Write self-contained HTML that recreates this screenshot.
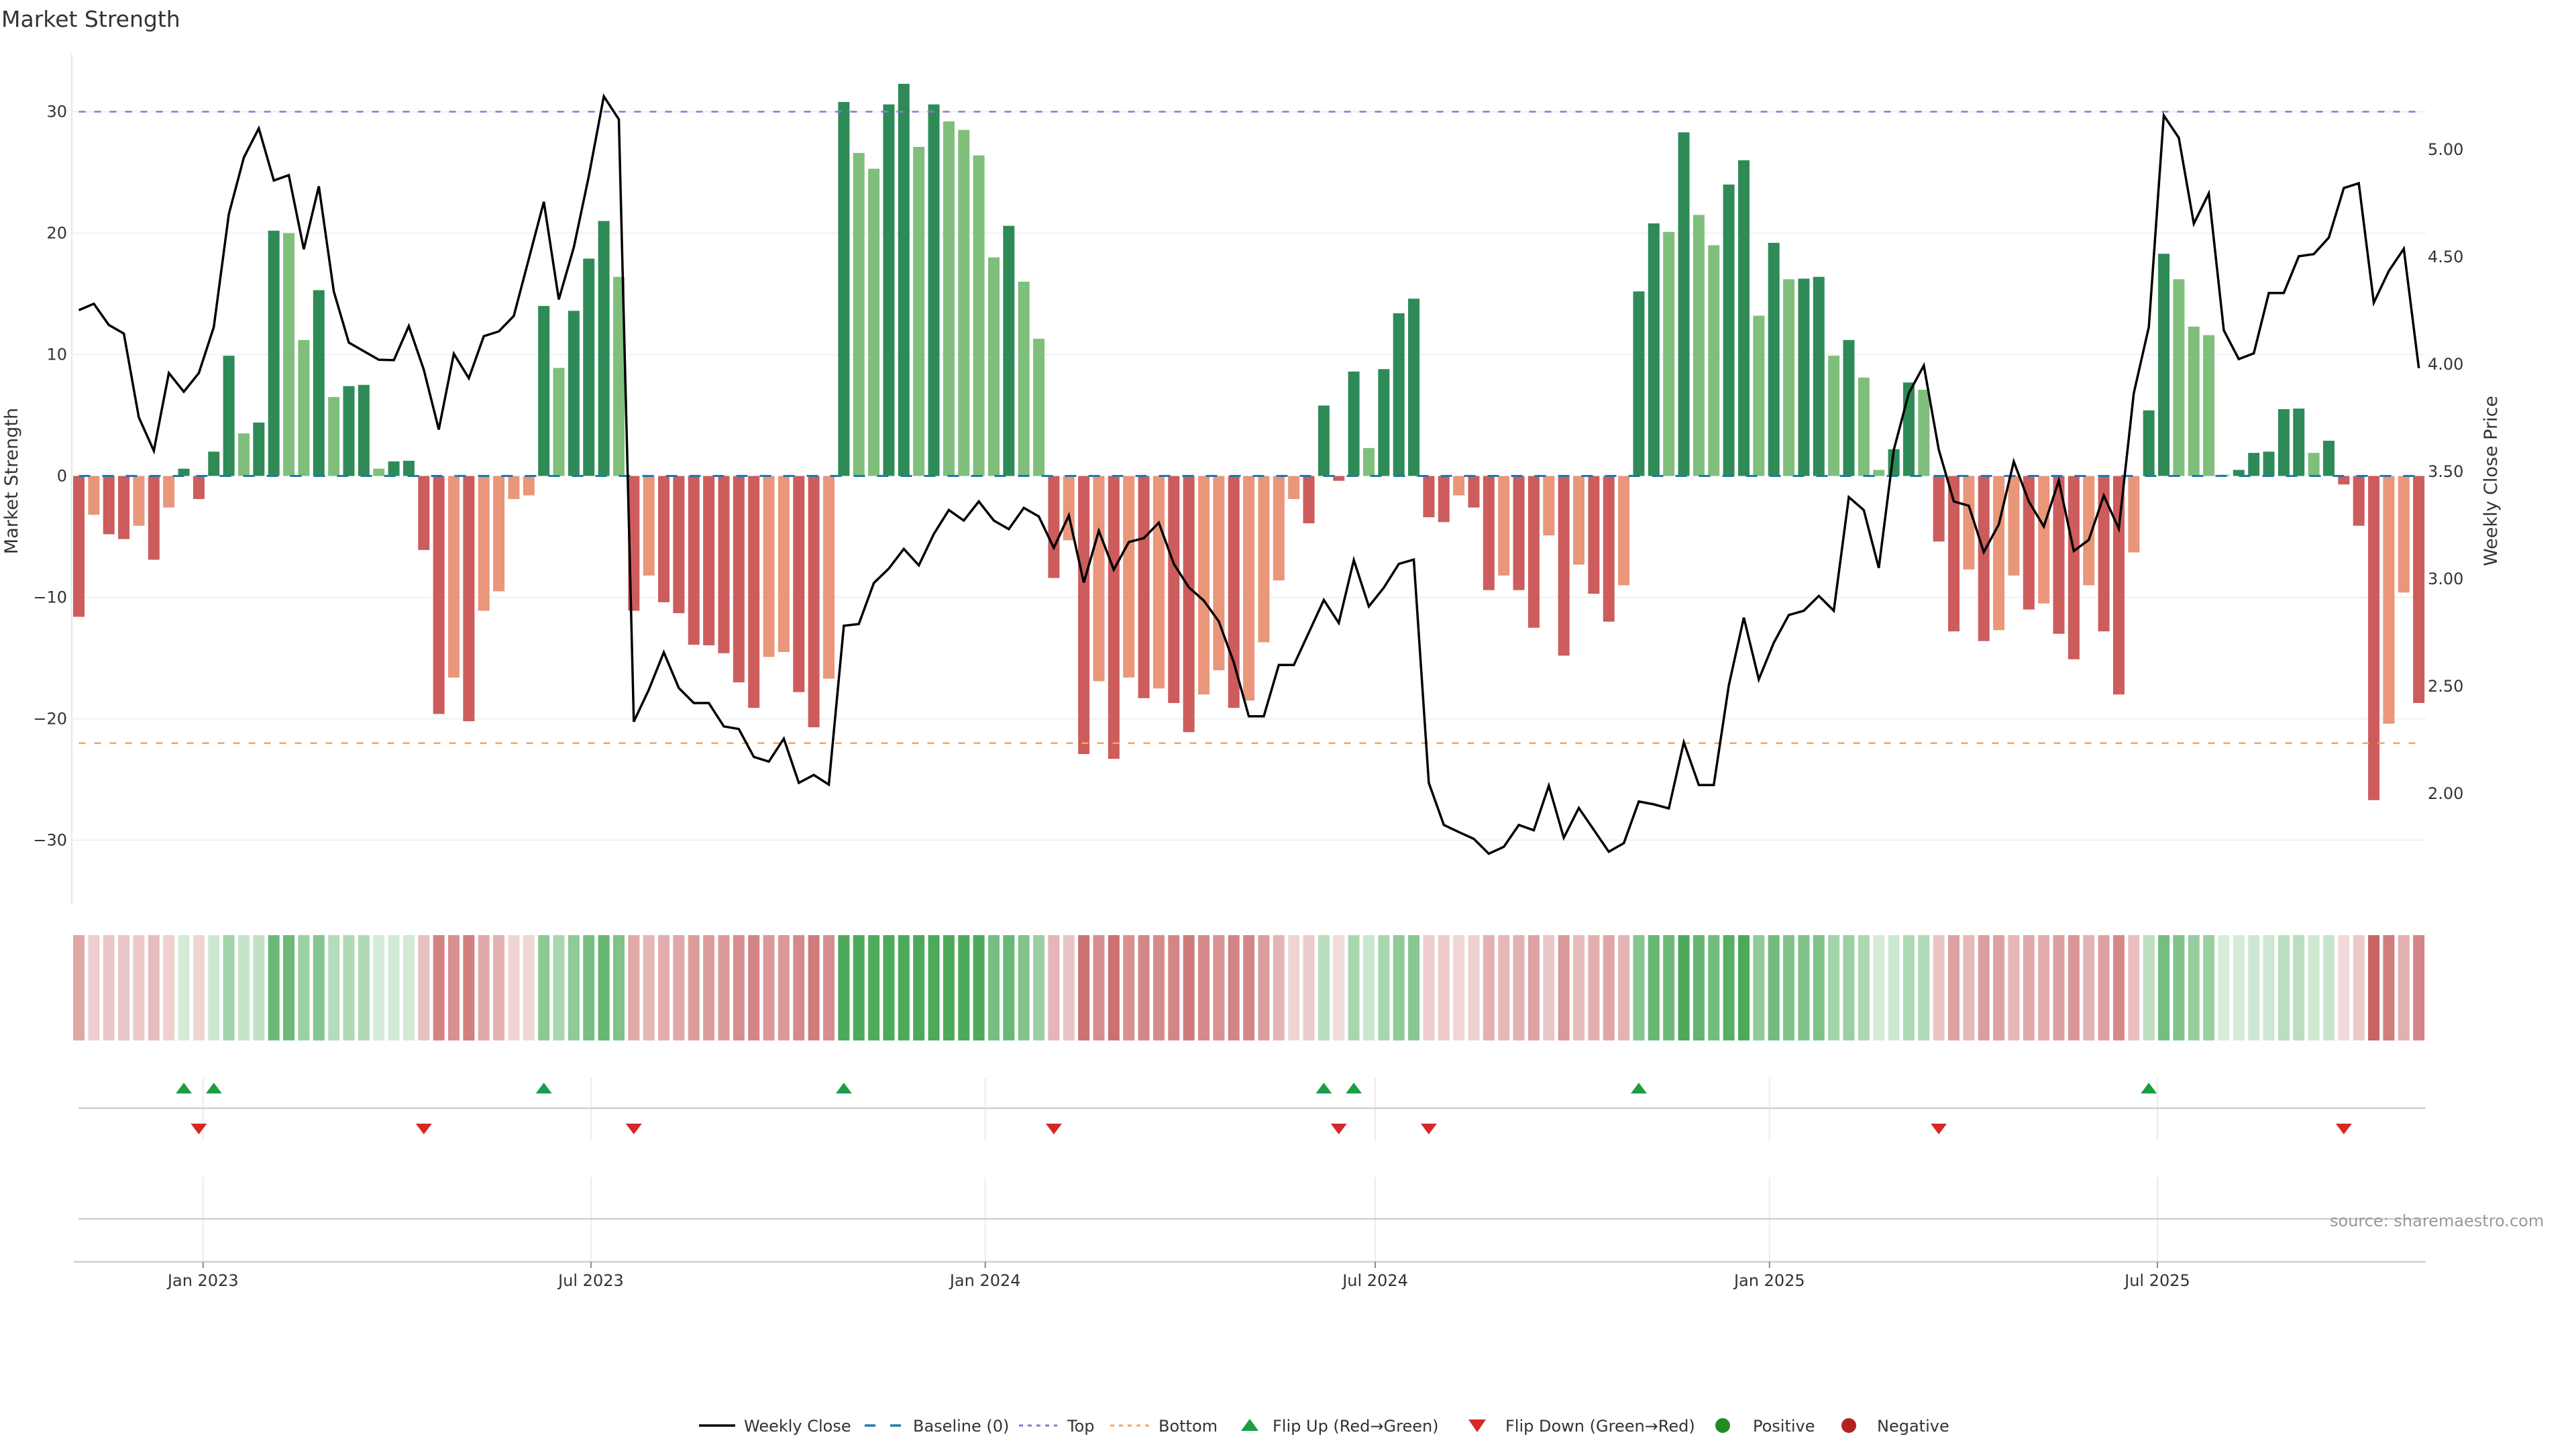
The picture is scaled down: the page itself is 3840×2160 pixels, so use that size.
<!DOCTYPE html>
<html><head><meta charset="utf-8"><title>Market Strength</title>
<style>
html,body{margin:0;padding:0;background:#fff;}
svg{display:block;font-family:"DejaVu Sans","Liberation Sans",sans-serif;}
</style></head>
<body>
<svg id="chart" width="3840" height="2160" viewBox="0 0 3840 2160" xmlns="http://www.w3.org/2000/svg">
<rect x="0" y="0" width="3840" height="2160" fill="#ffffff"/>
<text x="2" y="40" font-size="33" fill="#333">Market Strength</text>
<text transform="translate(26,717) rotate(-90)" text-anchor="middle" font-size="27" fill="#333">Market Strength</text>
<text transform="translate(3722,717) rotate(-90)" text-anchor="middle" font-size="27" fill="#333">Weekly Close Price</text>
<line x1="107" y1="80" x2="107" y2="1348" stroke="#e6e6e6" stroke-width="2"/>
<g id="grid"></g>
<g id="yticks"></g>
<g id="pticks"></g>
<g id="bars"></g>
<g id="refs"></g>
<g id="priceg"></g>
<g id="strip"></g>
<g id="markers"></g>
<g id="xaxis"></g>
<text x="3473" y="1828" font-size="24" fill="#999">source: sharemaestro.com</text>
<g id="legend"></g>
</svg>
<script>
const strength = [-11.6,-3.2,-4.8,-5.2,-4.1,-6.9,-2.6,0.6,-1.9,2.0,9.9,3.5,4.4,20.2,20.0,11.2,15.3,6.5,7.4,7.5,0.6,1.2,1.25,-6.1,-19.6,-16.6,-20.2,-11.1,-9.5,-1.9,-1.6,14.0,8.9,13.6,17.9,21.0,16.4,-11.1,-8.2,-10.4,-11.3,-13.9,-13.95,-14.6,-17.0,-19.1,-14.9,-14.5,-17.8,-20.7,-16.7,30.8,26.6,25.3,30.6,32.3,27.1,30.6,29.2,28.5,26.4,18.0,20.6,16.0,11.3,-8.4,-5.3,-22.9,-16.9,-23.3,-16.6,-18.3,-17.5,-18.7,-21.1,-18.0,-16.0,-19.1,-18.5,-13.7,-8.6,-1.9,-3.9,5.8,-0.4,8.6,2.3,8.8,13.4,14.6,-3.4,-3.8,-1.6,-2.6,-9.4,-8.2,-9.4,-12.5,-4.9,-14.8,-7.3,-9.7,-12.0,-9.0,15.2,20.8,20.1,28.3,21.5,19.0,24.0,26.0,13.2,19.2,16.2,16.25,16.4,9.9,11.2,8.1,0.5,2.2,7.7,7.1,-5.4,-12.8,-7.7,-13.6,-12.7,-8.2,-11.0,-10.5,-13.0,-15.1,-9.0,-12.8,-18.0,-6.3,5.4,18.3,16.2,12.3,11.6,0.1,0.5,1.9,2.0,5.5,5.55,1.9,2.9,-0.7,-4.1,-26.7,-20.4,-9.6,-18.7];
const price = [4.252,4.282,4.183,4.143,3.753,3.597,3.959,3.872,3.959,4.173,4.699,4.963,5.099,4.856,4.881,4.536,4.829,4.339,4.101,4.061,4.021,4.019,4.178,3.974,3.696,4.049,3.935,4.131,4.153,4.225,4.491,4.757,4.302,4.545,4.876,5.248,5.141,2.335,2.484,2.658,2.492,2.422,2.422,2.313,2.301,2.171,2.149,2.256,2.050,2.087,2.042,2.782,2.790,2.981,3.048,3.140,3.063,3.209,3.321,3.272,3.361,3.272,3.232,3.331,3.291,3.145,3.296,2.983,3.224,3.043,3.172,3.190,3.262,3.070,2.961,2.899,2.802,2.611,2.360,2.360,2.599,2.599,2.750,2.902,2.795,3.088,2.872,2.959,3.070,3.090,2.050,1.854,1.821,1.789,1.720,1.752,1.854,1.829,2.037,1.794,1.933,1.831,1.729,1.769,1.963,1.950,1.931,2.239,2.040,2.040,2.504,2.820,2.532,2.703,2.832,2.852,2.921,2.852,3.381,3.321,3.051,3.602,3.865,3.994,3.602,3.361,3.341,3.125,3.254,3.547,3.361,3.244,3.458,3.130,3.182,3.388,3.234,3.865,4.173,5.159,5.055,4.655,4.796,4.158,4.024,4.051,4.332,4.332,4.503,4.513,4.590,4.821,4.843,4.287,4.434,4.538,3.982];
const strengthTicks = [30,20,10,0,-10,-20,-30];
const priceTicks = [2.0,2.5,3.0,3.5,4.0,4.5,5.0];
const xTickDates = ["2023-01-01","2023-07-01","2024-01-01","2024-07-01","2025-01-01","2025-07-01"];
const xTickLabels = ["Jan 2023","Jul 2023","Jan 2024","Jul 2024","Jan 2025","Jul 2025"];
const topLevel = 30;
const bottomLevel = -22;
const startDate = "2022-11-04";

const NS = "http://www.w3.org/2000/svg";
const X0 = 117.5, STEP = 22.36, BW = 17;
function xOf(i){ return X0 + i*STEP; }
function yS(v){ return 709.5 - v*18.1; }
function yP(p){ return 223 + (5-p)*320; }
function xOfDate(s){
  const d = (Date.parse(s) - Date.parse(startDate))/86400000;
  return X0 + d/7*STEP;
}
function mk(tag, attrs, parent){
  const el = document.createElementNS(NS, tag);
  for (const k in attrs) el.setAttribute(k, attrs[k]);
  parent.appendChild(el);
  return el;
}
const G = id => document.getElementById(id);
const xFirst = xOf(0), xLast = xOf(strength.length-1);

strengthTicks.forEach(t => {
  if (t !== 0) {
    const gl = mk('line',{x1:107,x2:3616,y1:yS(t),y2:yS(t),stroke:'#eef0f3','stroke-width':2},G('grid'));
    
    
  }
  const tx = mk('text',{x:100,y:yS(t)+8,'text-anchor':'end','font-size':24,fill:'#333'},G('yticks'));
  tx.textContent = t < 0 ? '\u2212' + Math.abs(t) : String(t);
  
  
});
priceTicks.forEach(p => {
  const tx = mk('text',{x:3619,y:yP(p)+8,'font-size':24,fill:'#333'},G('pticks'));
  tx.textContent = p.toFixed(2);
  
  
});

strength.forEach((v,i) => {
  const prev = i>0 ? strength[i-1] : 0;
  let col;
  if (v >= 0) col = (v >= prev) ? '#2e8b57' : '#7fbf7b';
  else col = (v <= prev) ? '#cd5c5c' : '#e9967a';
  const y0 = yS(0), y1 = yS(v);
  const r = mk('rect',{x:xOf(i)-BW/2,y:Math.min(y0,y1),width:BW,height:Math.abs(y1-y0),fill:col},G('bars'));
  
  
});

const bl = mk('line',{x1:xFirst,x2:xLast,y1:yS(0),y2:yS(0),stroke:'#1f77b4','stroke-width':3,'stroke-dasharray':'17 18'},G('refs'));


const tl = mk('line',{x1:xFirst,x2:xLast,y1:yS(topLevel),y2:yS(topLevel),stroke:'#9370db','stroke-width':2.5,'stroke-dasharray':'10 13'},G('refs'));


const bt = mk('line',{x1:xFirst,x2:xLast,y1:yS(bottomLevel),y2:yS(bottomLevel),stroke:'#f4a460','stroke-width':2.5,'stroke-dasharray':'10 13'},G('refs'));



const pts = price.map((p,i) => xOf(i).toFixed(1)+','+yP(p).toFixed(1)).join(' ');
const pl = mk('polyline',{points:pts,fill:'none',stroke:'#000','stroke-width':3.5,'stroke-linejoin':'miter'},G('priceg'));



strength.forEach((v,i) => {
  const a = Math.min(1, 0.22 + 0.03*Math.abs(v));
  const base = v >= 0 ? [76,170,90] : [200,100,100];
  const c = base.map(b => Math.round(255 - (255-b)*a));
  const r = mk('rect',{x:xOf(i)-BW/2,y:1394,width:BW,height:157,fill:'rgb('+c.join(',')+')'},G('strip'));
  
  
});

xTickDates.forEach(d => {
  const x = xOfDate(d);
  const v1 = mk('line',{x1:x,x2:x,y1:1607,y2:1700,stroke:'#ececec','stroke-width':2},G('markers'));
  
  
  const v2 = mk('line',{x1:x,x2:x,y1:1755,y2:1881,stroke:'#ececec','stroke-width':2},G('markers'));
  
  
});
const h1 = mk('line',{x1:117,x2:3616,y1:1652,y2:1652,stroke:'#cfcfcf','stroke-width':2.5},G('markers'));


const h2 = mk('line',{x1:117,x2:3616,y1:1817,y2:1817,stroke:'#cfcfcf','stroke-width':2.5},G('markers'));



strength.forEach((v,i) => {
  if (i === 0) return;
  const p = strength[i-1];
  const x = xOf(i);
  if (v > 0 && p <= 0) {
    const t = mk('polygon',{points:(x-12)+',1630 '+(x+12)+',1630 '+x+',1614',fill:'#1a9e45'},G('markers'));
    
    
  } else if (v < 0 && p >= 0) {
    const t = mk('polygon',{points:(x-12)+',1675 '+(x+12)+',1675 '+x+',1691',fill:'#d62728'},G('markers'));
    
    
  }
});

const ax = mk('line',{x1:110,x2:3616,y1:1881,y2:1881,stroke:'#cfcfcf','stroke-width':2.5},G('xaxis'));


xTickDates.forEach((d,k) => {
  const x = xOfDate(d);
  const tk = mk('line',{x1:x,x2:x,y1:1881,y2:1890,stroke:'#888','stroke-width':2},G('xaxis'));
  
  
  const tx = mk('text',{x:x,y:1917,'text-anchor':'middle','font-size':24,fill:'#333'},G('xaxis'));
  tx.textContent = xTickLabels[k];
  
  
});

const LG = G('legend'), LY = 2125;
function ltext(x, s, name){
  const t = mk('text',{x:x,y:LY+9,'font-size':24,fill:'#333'},LG);
  t.textContent = s;
  
  
}
let e;
e = mk('line',{x1:1042,x2:1096,y1:LY,y2:LY,stroke:'#000','stroke-width':3.5},LG);


ltext(1109,'Weekly Close','legend-weekly-close-label');
e = mk('line',{x1:1289,x2:1343,y1:LY,y2:LY,stroke:'#1f77b4','stroke-width':3.5,'stroke-dasharray':'16 22'},LG);


ltext(1361,'Baseline (0)','legend-baseline-label');
e = mk('line',{x1:1519,x2:1576,y1:LY,y2:LY,stroke:'#9370db','stroke-width':3,'stroke-dasharray':'6 7'},LG);


ltext(1591,'Top','legend-top-label');
e = mk('line',{x1:1655,x2:1715,y1:LY,y2:LY,stroke:'#f4a460','stroke-width':3,'stroke-dasharray':'6 7'},LG);


ltext(1727,'Bottom','legend-bottom-label');
e = mk('polygon',{points:'1850,2133 1876,2133 1863,2115',fill:'#1a9e45'},LG);


ltext(1897,'Flip Up (Red\u2192Green)','legend-flip-up-label');
e = mk('polygon',{points:'2189,2116 2215,2116 2202,2135',fill:'#d62728'},LG);


ltext(2244,'Flip Down (Green\u2192Red)','legend-flip-down-label');
e = mk('circle',{cx:2568,cy:LY,r:11,fill:'#1f8b24'},LG);


ltext(2613,'Positive','legend-positive-label');
e = mk('circle',{cx:2756,cy:LY,r:11,fill:'#b22222'},LG);


ltext(2798,'Negative','legend-negative-label');
</script>
</body></html>
